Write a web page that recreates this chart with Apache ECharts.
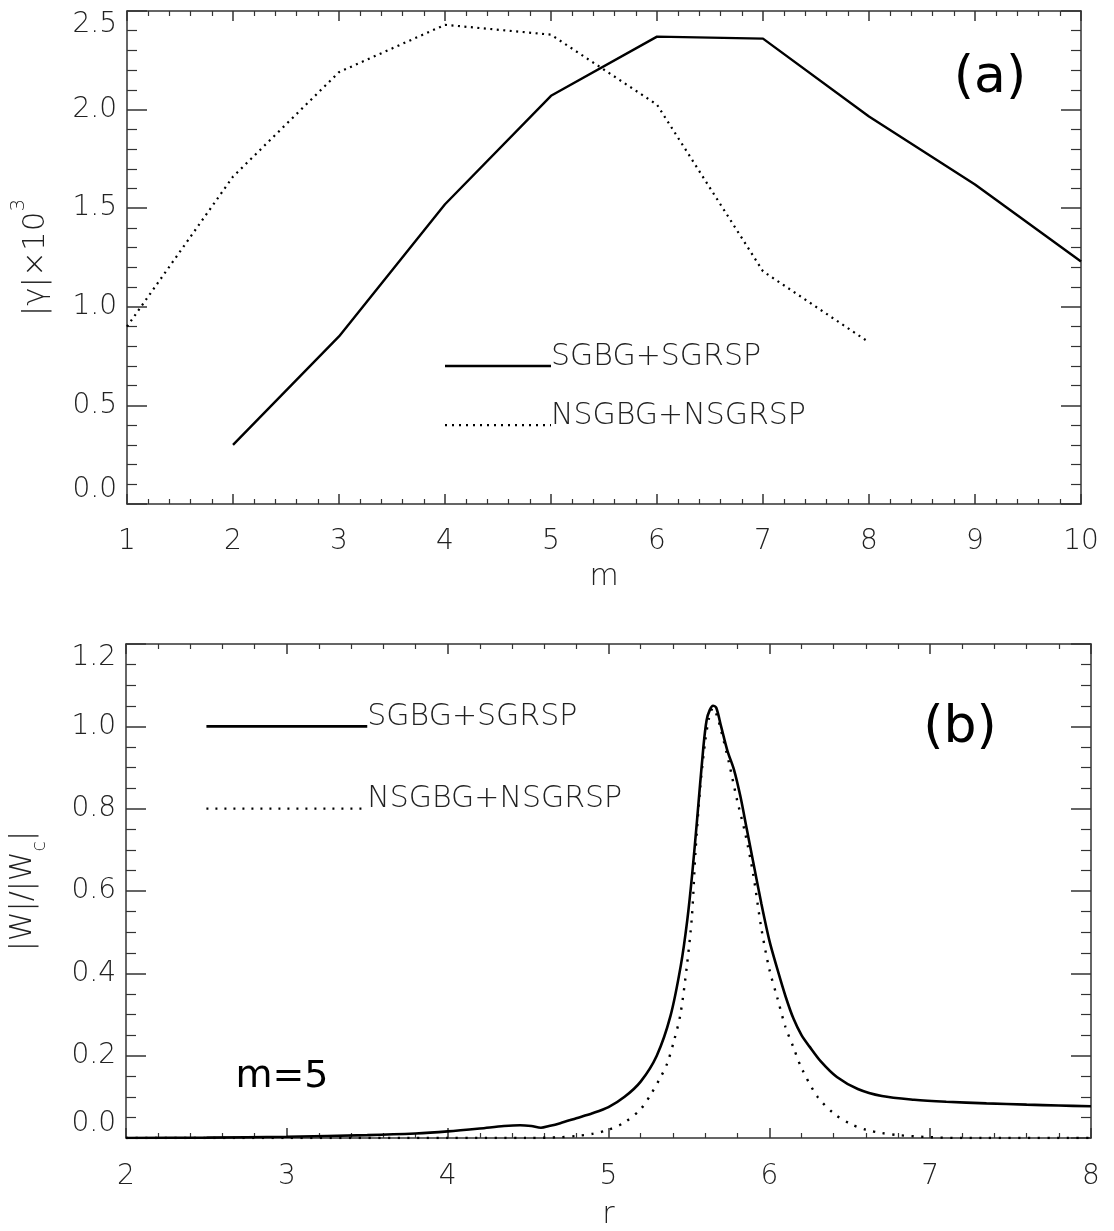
<!DOCTYPE html>
<html><head><meta charset="utf-8">
<script src="https://cdn.jsdelivr.net/npm/echarts@6/dist/echarts.min.js"></script>
<style>html,body{margin:0;padding:0;background:#fff}#c{width:1114px;height:1231px}</style>
</head><body><div id="c"></div>
<script>
// ---------- Panel (a) data ----------
const mValues  = [1, 2, 3, 4, 5, 6, 7, 8, 9, 10];
const gammaSG  = [null, 0.30, 0.85, 1.52, 2.07, 2.37, 2.36, 1.965, 1.62, 1.23];
const gammaNSG = [0.90, 1.66, 2.19, 2.43, 2.38, 2.025, 1.18, 0.82, null, null];
const xTicksA  = [1, 2, 3, 4, 5, 6, 7, 8, 9, 10];
const yTicksA  = [0.0, 0.5, 1.0, 1.5, 2.0, 2.5];

// ---------- Panel (b) data ----------
const rSG  = [2.0,2.5,3.0,3.5,3.8,4.0,4.2,4.35,4.45,4.52,4.58,4.63,4.7,4.8,4.9,5.0,5.1,5.2,5.3,5.385,5.45,5.49,5.52,5.55,5.59,5.61,5.63,5.65,5.67,5.7,5.74,5.78,5.82,5.86,5.9,5.95,6.0,6.05,6.1,6.15,6.2,6.25,6.32,6.42,6.55,6.7,6.9,7.1,7.35,7.6,7.8,8.0];
const wSG  = [0.0,0.001,0.003,0.007,0.011,0.016,0.023,0.029,0.031,0.029,0.025,0.029,0.036,0.048,0.06,0.075,0.1,0.137,0.2,0.296,0.42,0.53,0.64,0.77,0.95,1.015,1.04,1.05,1.045,1.0,0.94,0.895,0.83,0.75,0.67,0.57,0.48,0.41,0.345,0.29,0.25,0.222,0.186,0.148,0.119,0.102,0.093,0.088,0.084,0.081,0.079,0.077];
const rNSG = [2.0,3.0,4.0,4.5,4.7,4.8,4.9,5.0,5.1,5.2,5.26,5.32,5.364,5.41,5.447,5.488,5.519,5.54,5.57,5.6,5.625,5.65,5.675,5.7,5.75,5.8,5.85,5.9,5.95,6.0,6.05,6.1,6.15,6.2,6.3,6.4,6.5,6.6,6.7,6.8,7.0,7.2,8.0];
const wNSG = [0,0,0,0,0.002,0.005,0.01,0.02,0.038,0.07,0.104,0.145,0.18,0.24,0.30,0.42,0.54,0.69,0.85,0.96,1.02,1.045,1.025,0.99,0.91,0.82,0.74,0.64,0.51,0.41,0.34,0.27,0.22,0.17,0.10,0.06,0.035,0.02,0.012,0.007,0.002,0,0];
const xTicksB = [2, 3, 4, 5, 6, 7, 8];
const yTicksB = [0.0, 0.2, 0.4, 0.6, 0.8, 1.0, 1.2];

const seriesNames = ['SGBG+SGRSP', 'NSGBG+NSGRSP'];

const LIGHT = "'DejaVu Sans'";
const AX = '#333';
const labelStyle = { fontFamily: LIGHT, fontWeight: 200, fontSize: 28, color: '#222' };

function valAxis(o) {
  const base = {
    type: 'value',
    min: o.ticks[0], max: o.ticks[o.ticks.length - 1],
    interval: o.ticks[1] - o.ticks[0],
    gridIndex: o.grid, position: o.position,
    axisLine: { show: true, onZero: false, lineStyle: { color: AX, width: 1.5 } },
    axisTick: { show: true, inside: true, length: o.major, lineStyle: { color: AX, width: 1.5 } },
    minorTick: { show: true, splitNumber: o.minorSplit, length: o.minor, lineStyle: { color: AX, width: 1.2 } },
    splitLine: { show: false }, minorSplitLine: { show: false },
    axisLabel: Object.assign({ show: o.labels, margin: o.margin || 10,
      formatter: o.fmt, showMinLabel: true, showMaxLabel: true }, labelStyle, o.extraLabel || {})
  };
  if (o.name) {
    base.name = o.name; base.nameLocation = 'middle'; base.nameGap = o.nameGap;
    base.nameTextStyle = o.nameTextStyle;
  }
  return base;
}

const fmt1 = v => v.toFixed(1);
const fmtInt = v => String(Math.round(v));

const chart = echarts.init(document.getElementById('c'), null, { renderer: 'canvas' });

const option = {
  animation: false,
  backgroundColor: '#fff',
  grid: [
    { left: 127, top: 11, width: 954, height: 493 },
    { left: 125, top: 644, width: 966, height: 499 }
  ],
  xAxis: [
    valAxis({ ticks: xTicksA, grid: 0, position: 'bottom', major: 10, minor: 5, minorSplit: 5, labels: true, fmt: fmtInt, margin: 24,
      name: 'm', nameGap: 58, nameTextStyle: { fontFamily: LIGHT, fontWeight: 200, fontSize: 30, color: '#222' } }),
    valAxis({ ticks: xTicksA, grid: 0, position: 'top', major: 10, minor: 5, minorSplit: 5, labels: false }),
    valAxis({ ticks: xTicksB, grid: 1, position: 'bottom', major: 10, minor: 5, minorSplit: 5, labels: true, fmt: fmtInt, margin: 25,
      name: 'r', nameGap: 62, nameTextStyle: { fontFamily: LIGHT, fontWeight: 200, fontSize: 30, color: '#222' } }),
    valAxis({ ticks: xTicksB, grid: 1, position: 'top', major: 10, minor: 5, minorSplit: 5, labels: false })
  ],
  yAxis: [
    valAxis({ ticks: yTicksA, grid: 0, position: 'left', major: 20, minor: 10, minorSplit: 5, labels: true, fmt: fmt1, margin: 10,
      extraLabel: { verticalAlignMinLabel: 'bottom', verticalAlignMaxLabel: 'top' },
      name: '{a||γ|×10}{s|3}', nameGap: 76,
      nameTextStyle: { rich: {
        a: { fontFamily: LIGHT, fontWeight: 200, fontSize: 31, color: '#222', lineHeight: 42, verticalAlign: 'bottom' },
        s: { fontFamily: LIGHT, fontWeight: 200, fontSize: 20, color: '#222', lineHeight: 42, verticalAlign: 'top' } } } }),
    valAxis({ ticks: yTicksA, grid: 0, position: 'right', major: 20, minor: 10, minorSplit: 5, labels: false }),
    valAxis({ ticks: yTicksB, grid: 1, position: 'left', major: 20, minor: 10, minorSplit: 4, labels: true, fmt: fmt1, margin: 10,
      extraLabel: { verticalAlignMinLabel: 'bottom', verticalAlignMaxLabel: 'top' },
      name: '{a||W|/|W}{s|c}{a||}', nameGap: 76,
      nameTextStyle: { rich: {
        a: { fontFamily: LIGHT, fontWeight: 200, fontSize: 30, color: '#222', lineHeight: 42, verticalAlign: 'top' },
        s: { fontFamily: LIGHT, fontWeight: 200, fontSize: 19, color: '#222', lineHeight: 42, verticalAlign: 'bottom' } } } }),
    valAxis({ ticks: yTicksB, grid: 1, position: 'right', major: 20, minor: 10, minorSplit: 4, labels: false })
  ],
  series: [
    { name: seriesNames[0], type: 'line', xAxisIndex: 0, yAxisIndex: 0, showSymbol: false, symbol: 'none',
      data: mValues.map((m, i) => [m, gammaSG[i]]), connectNulls: false,
      lineStyle: { color: '#000', width: 2.4, type: 'solid' } },
    { name: seriesNames[1], type: 'line', xAxisIndex: 0, yAxisIndex: 0, showSymbol: false, symbol: 'none',
      data: mValues.map((m, i) => [m, gammaNSG[i]]), connectNulls: false,
      lineStyle: { color: '#000', width: 2.2, type: [2, 4.5] } },
    { name: seriesNames[0], type: 'line', xAxisIndex: 2, yAxisIndex: 2, showSymbol: false, symbol: 'none', smooth: 0.3,
      data: rSG.map((r, i) => [r, wSG[i]]),
      lineStyle: { color: '#000', width: 2.6, type: 'solid' } },
    { name: seriesNames[1], type: 'line', xAxisIndex: 2, yAxisIndex: 2, showSymbol: false, symbol: 'none', smooth: 0.3,
      data: rNSG.map((r, i) => [r, wNSG[i]]),
      lineStyle: { color: '#000', width: 2.4, type: [2.2, 7.5] } }
  ]
};
chart.setOption(option);

// ---------- legends & annotations (placed in data space, converted to pixels) ----------
function px(xi, yi, pt) { return chart.convertToPixel({ xAxisIndex: xi, yAxisIndex: yi }, pt); }
const gfx = [];
function legendItem(xi, yi, x0, x1, y, dash, text, dotGap) {
  const a = px(xi, yi, [x0, y]), b = px(xi, yi, [x1, y]);
  gfx.push({ type: 'line', shape: { x1: a[0], y1: a[1], x2: b[0], y2: b[1] },
    style: { stroke: '#000', lineWidth: dash ? 2.2 : 2.6, lineDash: dash ? [2, dotGap] : null } });
  gfx.push({ type: 'text', x: b[0], y: a[1] + 6, style: { text: text, fontFamily: 'DejaVu Sans', fontWeight: 200,
    fontSize: 30, fill: '#222', align: 'left', verticalAlign: 'bottom' } });
}
legendItem(0, 0, 4, 5, 0.7, false, seriesNames[0], 0);
legendItem(0, 0, 4, 5, 0.4, true, seriesNames[1], 5);
legendItem(2, 2, 2.5, 3.5, 1.0, false, seriesNames[0], 0);
legendItem(2, 2, 2.5, 3.5, 0.8, true, seriesNames[1], 7);

gfx.push({ type: 'text', x: 990, y: 78, style: { text: '(a)', fontFamily: 'DejaVu Sans', fontSize: 52, fill: '#000', align: 'center', verticalAlign: 'middle' } });
gfx.push({ type: 'text', x: 960, y: 728, style: { text: '(b)', fontFamily: 'DejaVu Sans', fontSize: 52, fill: '#000', align: 'center', verticalAlign: 'middle' } });
gfx.push({ type: 'text', x: 282, y: 1077, style: { text: 'm=5', fontFamily: 'DejaVu Sans', fontSize: 38, fill: '#000', align: 'center', verticalAlign: 'middle' } });
chart.setOption({ graphic: gfx });
</script></body></html>
